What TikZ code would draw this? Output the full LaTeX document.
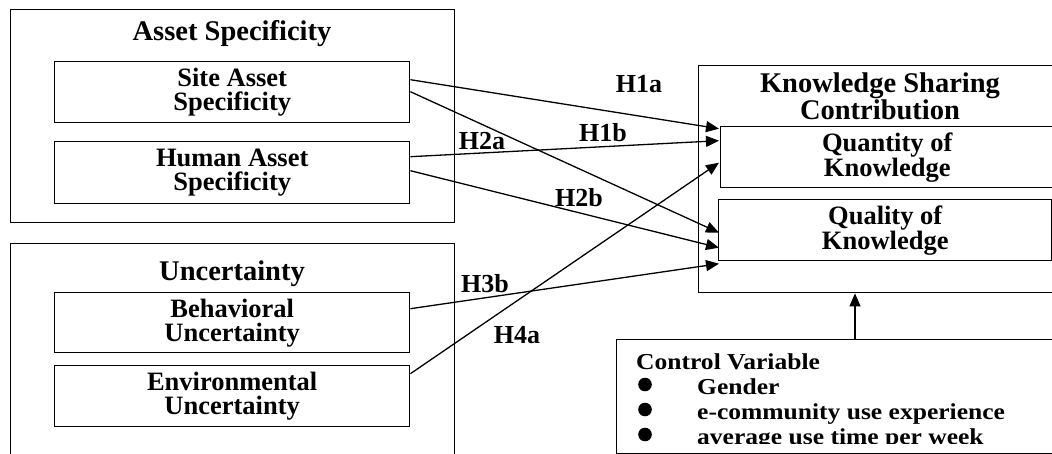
\documentclass[tikz,border=0pt]{standalone}
\usepackage{fontspec}
\setmainfont{Liberation Serif}
\newfontfamily\ctrlfont{Liberation Serif Bold}[FakeStretch=1.12]
\usetikzlibrary{arrows.meta}
\begin{document}
\begin{tikzpicture}[x=1pt,y=-1pt,
  frame/.style={draw, line width=1.4pt, rectangle, inner sep=0pt, anchor=north west},
  sub/.style={frame, align=center, font=\bfseries\fontsize{26.5}{24}\selectfont},
  title/.style={font=\bfseries\fontsize{28.5}{25.5}\selectfont, inner sep=0pt},
  hyp/.style={font=\bfseries\fontsize{26}{26}\selectfont, inner sep=0pt, anchor=base},
  arr/.style={line width=1.3pt, -{Triangle[length=13pt,width=11pt]}},
  ctl/.style={font=\ctrlfont\fontsize{22.8}{25}\selectfont, inner sep=0pt, anchor=base west}]

\path[use as bounding box, clip] (0,0) rectangle (1052,454);

% Asset specificity group
\node[frame, minimum width=444pt, minimum height=213pt] (asset) at (10,9) {};
\node[title, anchor=base] (assetT) at (232,41) {Asset Specificity};
\node[sub, minimum width=355pt, minimum height=61pt] (site) at (54,61) {Site Asset\\Specificity};
\node[sub, minimum width=355pt, minimum height=62pt] (human) at (54,141) {Human Asset\\Specificity};

% Uncertainty group
\node[frame, minimum width=444pt, minimum height=230pt] (unc) at (10,243) {};
\node[title, anchor=base] (uncT) at (232,281) {Uncertainty};
\node[sub, minimum width=355pt, minimum height=60pt] (behav) at (54,292) {Behavioral\\Uncertainty};
\node[sub, minimum width=355pt, minimum height=61pt] (env) at (54,365) {Environmental\\Uncertainty};

% Knowledge sharing contribution group
\node[frame, minimum width=370pt, minimum height=227pt] (ksc) at (698,65) {};
\node[title, align=center] (kscT) at (880,96.7) {Knowledge Sharing\\Contribution};
\node[sub, minimum width=333pt, minimum height=61pt] (quan) at (720,126) {Quantity of\\Knowledge};
\node[sub, minimum width=333pt, minimum height=61pt] (qual) at (718,199) {Quality of\\Knowledge};

% Control variables
\node[frame, minimum width=450pt, minimum height=114pt] (ctrl) at (616,339) {};
\begin{scope}
  \clip (616,339) rectangle (1052,443.5);
  \node[ctl] (cvT) at (636,369) {Control Variable};
  \node[ctl] (cv1) at (697,394) {Gender};
  \node[ctl] (cv2) at (697,419) {e-community use experience};
  \node[ctl] (cv3) at (697,444) {average use time per week};
  \fill (645,384.5) circle (6.8pt);
  \fill (645,409.5) circle (6.8pt);
  \fill (645,434.5) circle (6.8pt);
\end{scope}

% Hypothesised paths
\draw[arr] ([yshift=12.5pt]site.east) -- ([xshift=-1pt,yshift=28.5pt]quan.west);
\draw[arr] ([yshift=0.5pt]site.east) -- ([xshift=1pt,yshift=-2.5pt]qual.west);
\draw[arr] ([yshift=16pt]human.east) -- ([xshift=-1pt,yshift=16.5pt]quan.west);
\draw[arr] ([yshift=2pt]human.east) -- ([xshift=1pt,yshift=-17.5pt]qual.west);
\draw[arr] ([yshift=14pt]behav.east) -- ([xshift=1pt,yshift=-33.5pt]qual.west);
\draw[arr] ([yshift=22.5pt]env.east) -- ([xshift=-1pt,yshift=-5.5pt]quan.west);

\coordinate (cx) at (855,0);
\draw[arr] (ctrl.north -| cx) -- (ksc.south -| cx);

% Path labels
\node[hyp] (h1a) at (639,93) {H1a};
\node[hyp] (h1b) at (603,142) {H1b};
\node[hyp] (h2a) at (482,150) {H2a};
\node[hyp] (h2b) at (579,207) {H2b};
\node[hyp] (h3b) at (485,293) {H3b};
\node[hyp] (h4a) at (517,343) {H4a};
\end{tikzpicture}
\end{document}
